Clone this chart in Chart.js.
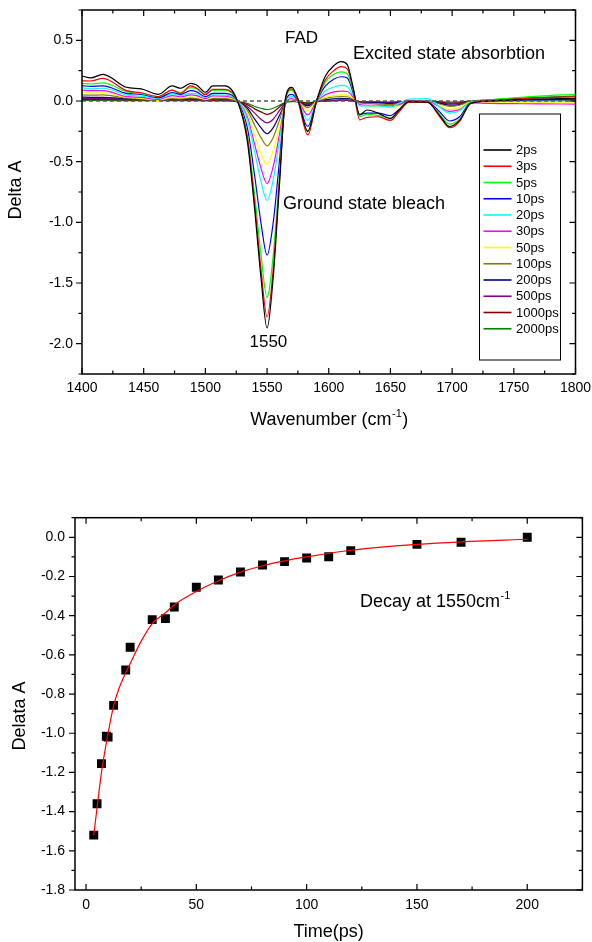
<!DOCTYPE html>
<html>
<head>
<meta charset="utf-8">
<script src="https://cdn.jsdelivr.net/npm/chart.js@4.4.0/dist/chart.umd.min.js"></script>
<style>
  html, body { margin: 0; padding: 0; background: #fff; }
  #wrap { position: relative; width: 592px; height: 942px; }
  canvas { position: absolute; left: 0; }
  #spectra { top: 0; }
  #decay { top: 470px; }
</style>
</head>
<body>
<div id="wrap">
  <canvas id="spectra" width="592" height="450"></canvas>
  <canvas id="decay" width="592" height="472"></canvas>
</div>
<script>
const FONT = '"Liberation Sans", Arial, sans-serif';

// --- transient spectra (Delta A vs wavenumber) ---
const wavenumbers = [1400, 1407, 1417, 1436, 1448, 1462, 1473, 1480, 1488, 1493, 1500, 1506, 1516,
  1526, 1534, 1540, 1545, 1550, 1555, 1560, 1565, 1570, 1575, 1583, 1590,
  1597, 1604, 1610, 1615, 1620, 1625, 1631, 1640, 1650, 1657, 1665,
  1680, 1690, 1698, 1706, 1715, 1730, 1750, 1770, 1800];

const delays = ['2ps', '3ps', '5ps', '10ps', '20ps', '30ps', '50ps', '100ps', '200ps', '500ps', '1000ps', '2000ps'];
const delayColors = ['#000000', '#ff0000', '#00ff00', '#0000ff', '#00ffff', '#ff00ff', '#ffff00',
  '#808000', '#000080', '#800080', '#800000', '#008000'];

const dA_2ps = [0.206, 0.19, 0.22, 0.113, 0.1, 0.055, 0.124, 0.105, 0.146, 0.132, 0.072, 0.124, 0.124,
  0.0, -0.33, -0.9, -1.45, -1.87, -1.45, -0.7, 0.03, 0.113, 0.02, -0.25, 0.0,
  0.2, 0.29, 0.324, 0.3, 0.1, -0.115, -0.074, -0.1, -0.145, -0.074, -0.005,
  -0.01, -0.12, -0.21, -0.16, -0.02, 0.0, 0.01, 0.015, 0.022];
const dA_3ps = [0.167, 0.165, 0.187, 0.085, 0.068, 0.036, 0.09, 0.063, 0.124, 0.105, 0.052, 0.096, 0.096,
  0.0, -0.3, -0.85, -1.38, -1.78, -1.38, -0.66, 0.02, 0.1, 0.0, -0.28, -0.01,
  0.17, 0.25, 0.283, 0.265, 0.09, -0.155, -0.135, -0.13, -0.16, -0.09, -0.01,
  -0.01, -0.13, -0.22, -0.17, -0.02, 0.005, 0.015, 0.025, 0.035];
const dA_5ps = [0.146, 0.14, 0.15, 0.077, 0.06, 0.036, 0.09, 0.07, 0.11, 0.1, 0.057, 0.09, 0.09,
  0.0, -0.28, -0.78, -1.26, -1.62, -1.27, -0.62, 0.01, 0.09, 0.0, -0.245, -0.01,
  0.15, 0.22, 0.24, 0.225, 0.08, -0.13, -0.11, -0.12, -0.14, -0.08, -0.01,
  -0.01, -0.11, -0.19, -0.15, -0.015, 0.01, 0.025, 0.04, 0.055];
const dA_10ps = [0.126, 0.12, 0.124, 0.063, 0.055, 0.027, 0.07, 0.055, 0.085, 0.075, 0.036, 0.063, 0.063,
  0.0, -0.22, -0.62, -1.0, -1.27, -1.0, -0.5, 0.0, 0.055, 0.0, -0.21, -0.01,
  0.12, 0.18, 0.2, 0.19, 0.06, -0.11, -0.1, -0.1, -0.12, -0.07, -0.01,
  -0.01, -0.09, -0.165, -0.13, -0.015, 0.0, 0.005, 0.01, 0.015];
const dA_20ps = [0.11, 0.1, 0.105, 0.05, 0.04, 0.022, 0.058, 0.045, 0.063, 0.058, 0.027, 0.05, 0.048,
  0.0, -0.15, -0.42, -0.66, -0.82, -0.65, -0.33, -0.02, 0.036, 0.0, -0.16, -0.01,
  0.08, 0.115, 0.128, 0.12, 0.04, -0.04, -0.04, -0.04, -0.05, -0.02, 0.015,
  0.02, -0.05, -0.1, -0.08, -0.01, 0.0, 0.005, 0.008, 0.01];
const dA_30ps = [0.09, 0.085, 0.085, 0.036, 0.03, 0.014, 0.044, 0.035, 0.05, 0.045, 0.02, 0.042, 0.04,
  0.0, -0.13, -0.36, -0.55, -0.68, -0.54, -0.28, -0.02, 0.02, 0.0, -0.115, -0.005,
  0.05, 0.075, 0.082, 0.078, 0.03, -0.03, -0.035, -0.035, -0.04, -0.03, 0.0,
  0.0, -0.05, -0.085, -0.07, -0.015, -0.02, -0.022, -0.024, -0.025];
const dA_50ps = [0.07, 0.066, 0.068, 0.03, 0.022, 0.008, 0.03, 0.025, 0.035, 0.03, 0.014, 0.03, 0.03,
  0.0, -0.1, -0.28, -0.43, -0.52, -0.41, -0.22, -0.02, 0.01, -0.005, -0.08, 0.0,
  0.03, 0.045, 0.05, 0.048, 0.02, -0.03, -0.04, -0.045, -0.055, -0.04, -0.005,
  0.0, -0.04, -0.07, -0.055, -0.01, -0.01, -0.01, -0.01, -0.01];
const dA_100ps = [0.05, 0.048, 0.05, 0.025, 0.018, 0.005, 0.022, 0.018, 0.025, 0.022, 0.01, 0.02, 0.02,
  -0.005, -0.08, -0.2, -0.3, -0.37, -0.3, -0.16, -0.02, 0.0, -0.005, -0.055, 0.0,
  0.02, 0.033, 0.036, 0.035, 0.015, -0.015, -0.02, -0.025, -0.03, -0.02, 0.0,
  0.0, -0.025, -0.045, -0.035, -0.005, 0.0, 0.0, 0.0, 0.0];
const dA_200ps = [0.032, 0.03, 0.03, 0.02, 0.015, 0.01, 0.02, 0.016, 0.02, 0.018, 0.01, 0.015, 0.015,
  -0.005, -0.06, -0.15, -0.22, -0.27, -0.22, -0.12, -0.02, 0.0, -0.005, -0.04, 0.0,
  0.01, 0.018, 0.02, 0.02, 0.01, -0.01, -0.015, -0.015, -0.02, -0.015, 0.0,
  0.0, -0.02, -0.035, -0.03, -0.005, 0.0, 0.005, 0.005, 0.008];
const dA_500ps = [0.022, 0.021, 0.02, 0.016, 0.014, 0.01, 0.013, 0.012, 0.013, 0.012, 0.008, 0.01, 0.01,
  -0.005, -0.045, -0.1, -0.15, -0.18, -0.15, -0.08, -0.015, 0.0, -0.005, -0.03, -0.005,
  0.0, 0.005, 0.008, 0.008, 0.003, -0.01, -0.012, -0.012, -0.015, -0.01, -0.005,
  -0.005, -0.015, -0.025, -0.02, -0.005, 0.0, 0.0, 0.003, 0.005];
const dA_1000ps = [0.014, 0.013, 0.013, 0.01, 0.009, 0.007, 0.008, 0.008, 0.008, 0.007, 0.005, 0.005, 0.005,
  -0.005, -0.03, -0.065, -0.09, -0.11, -0.09, -0.05, -0.01, 0.0, -0.005, -0.02, -0.005,
  0.0, 0.003, 0.005, 0.005, 0.0, -0.008, -0.01, -0.01, -0.012, -0.008, -0.005,
  -0.005, -0.01, -0.018, -0.015, -0.005, 0.0, 0.005, 0.008, 0.01];
const dA_2000ps = [0.004, 0.004, 0.004, 0.003, 0.003, 0.002, 0.002, 0.002, 0.002, 0.002, 0.001, 0.0, 0.0,
  -0.005, -0.02, -0.045, -0.06, -0.07, -0.06, -0.035, -0.01, -0.005, -0.005, -0.015, -0.005,
  0.0, 0.003, 0.005, 0.005, 0.0, -0.005, -0.008, -0.008, -0.01, -0.008, 0.0,
  0.0, -0.005, -0.01, -0.008, 0.0, 0.01, 0.02, 0.03, 0.04];

const spectra = [dA_2ps, dA_3ps, dA_5ps, dA_10ps, dA_20ps, dA_30ps, dA_50ps, dA_100ps,
  dA_200ps, dA_500ps, dA_1000ps, dA_2000ps];

const zeroLineX = [1400, 1800];
const zeroLineY = [0, 0];

// --- decay at 1550 cm-1 ---
const decayTimes = [3.5, 5, 7, 9.2, 10, 12.5, 18, 20, 30, 36, 40, 50, 60, 70, 80, 90, 100, 110, 120, 150, 170, 200];
const decayValues = [-1.52, -1.36, -1.155, -1.015, -1.02, -0.858, -0.677, -0.561, -0.42, -0.415, -0.356,
  -0.255, -0.218, -0.177, -0.141, -0.124, -0.106, -0.099, -0.068, -0.036, -0.025, 0.0];
const fitTimes = [3.5, 5, 7, 10, 12.5, 15, 18, 20, 25, 30, 36, 40, 50, 60, 70, 80, 90, 100, 120, 150, 170, 200];
const fitValues = [-1.52, -1.38, -1.2, -1.0, -0.86, -0.77, -0.69, -0.645, -0.53, -0.44, -0.385, -0.345,
  -0.277, -0.222, -0.178, -0.145, -0.12, -0.1, -0.066, -0.036, -0.023, -0.01];

const toXY = (xs, ys) => xs.map((x, i) => ({ x: x, y: ys[i] }));

// tick values on multiples of step inside the scale range
const stepTicks = step => scale => {
  const out = [];
  const n0 = Math.ceil(scale.min / step - 1e-9), n1 = Math.floor(scale.max / step + 1e-9);
  for (let n = n0; n <= n1; n++) out.push({ value: Math.round(n * step * 1e6) / 1e6 });
  scale.ticks = out;
};
// fixed axis box size, no extra label padding
const fixSize = (prop, size) => s => {
  s[prop] = size;
  s.paddingTop = 0; s.paddingBottom = 0; s.paddingLeft = 0; s.paddingRight = 0;
};

// frame with Origin-style ticks (left outward, others inward)
const framePlugin = {
  id: 'frame',
  afterDatasetsDraw(chart, args, o) {
    const { ctx, chartArea: a, scales } = chart;
    ctx.save();
    ctx.strokeStyle = '#000';
    ctx.lineWidth = 1.5;
    ctx.strokeRect(a.left, a.top, a.right - a.left, a.bottom - a.top);
    ctx.lineWidth = 1.2;
    const marks = (scale, minor, major) => {
      const out = [];
      const n0 = Math.ceil(scale.min / minor - 1e-9), n1 = Math.floor(scale.max / minor + 1e-9);
      const ratio = Math.round(major / minor);
      for (let n = n0; n <= n1; n++) {
        out.push({ p: scale.getPixelForValue(n * minor), big: n % ratio === 0 });
      }
      return out;
    };
    ctx.beginPath();
    marks(scales.x, o.xMinor, o.xMajor).forEach(m => {
      const len = m.big ? 6 : 3.5;
      ctx.moveTo(m.p, a.bottom); ctx.lineTo(m.p, a.bottom - len);
      ctx.moveTo(m.p, a.top); ctx.lineTo(m.p, a.top + len);
    });
    marks(scales.y, o.yMinor, o.yMajor).forEach(m => {
      const len = m.big ? 6 : 3.5;
      ctx.moveTo(a.left, m.p); ctx.lineTo(a.left - len, m.p);
      ctx.moveTo(a.right, m.p); ctx.lineTo(a.right - len, m.p);
    });
    ctx.stroke();
    ctx.restore();
  }
};

// free text: annotations and axis titles
const textPlugin = {
  id: 'notes',
  afterDraw(chart, args, o) {
    const ctx = chart.ctx;
    ctx.save();
    ctx.fillStyle = '#000';
    (o.items || []).forEach(it => {
      ctx.font = it.size + 'px ' + FONT;
      if (it.rotate) {
        ctx.save();
        ctx.translate(it.x, it.y);
        ctx.rotate(-Math.PI / 2);
        ctx.textAlign = 'center';
        ctx.textBaseline = 'middle';
        ctx.fillText(it.text, 0, 0);
        ctx.restore();
        return;
      }
      ctx.textAlign = 'left';
      ctx.textBaseline = 'alphabetic';
      const w1 = ctx.measureText(it.text).width;
      let w2 = 0, w3 = 0;
      if (it.sup) {
        ctx.font = Math.round(it.size * 0.6) + 'px ' + FONT;
        w2 = ctx.measureText(it.sup).width;
        ctx.font = it.size + 'px ' + FONT;
        w3 = ctx.measureText(it.tail || '').width;
      }
      let x = it.x;
      if (it.align === 'center') x = it.x - (w1 + w2 + w3) / 2;
      ctx.fillText(it.text, x, it.y);
      if (it.sup) {
        ctx.font = Math.round(it.size * 0.6) + 'px ' + FONT;
        ctx.fillText(it.sup, x + w1 + 0.5, it.y - it.size * 0.42);
        ctx.font = it.size + 'px ' + FONT;
        if (it.tail) ctx.fillText(it.tail, x + w1 + w2 + 1, it.y);
      }
    });
    ctx.restore();
  }
};

// legend box inside the plot
const boxLegend = {
  id: 'boxLegend',
  afterDraw(chart, args, o) {
    const ctx = chart.ctx;
    ctx.save();
    ctx.fillStyle = '#fff';
    ctx.fillRect(o.left, o.top, o.width, o.height);
    ctx.strokeStyle = '#000';
    ctx.lineWidth = 1;
    ctx.strokeRect(o.left, o.top, o.width, o.height);
    ctx.font = '13px ' + FONT;
    ctx.textBaseline = 'middle';
    ctx.textAlign = 'left';
    chart.data.datasets.filter(d => d.inLegend).forEach((d, i) => {
      const y = o.firstY + i * o.rowGap;
      ctx.strokeStyle = d.borderColor;
      ctx.lineWidth = 1.6;
      ctx.beginPath();
      ctx.moveTo(o.lineX0, y); ctx.lineTo(o.lineX1, y);
      ctx.stroke();
      ctx.fillStyle = '#000';
      ctx.fillText(d.label, o.textX, y + 0.5);
    });
    ctx.restore();
  }
};

const tickFont = { family: FONT, size: 14 };

const spectraSets = spectra.map((arr, i) => ({
  label: delays[i],
  data: toXY(wavenumbers, arr),
  borderColor: delayColors[i],
  borderWidth: 1.2,
  pointRadius: 0,
  cubicInterpolationMode: 'monotone',
  inLegend: true
}));
spectraSets.push({
  label: 'zero',
  data: toXY(zeroLineX, zeroLineY),
  borderColor: '#555',
  borderWidth: 1.4,
  borderDash: [4, 3],
  pointRadius: 0,
  order: -1
});

new Chart(document.getElementById('spectra'), {
  type: 'line',
  data: { datasets: spectraSets },
  options: {
    responsive: false,
    animation: false,
    devicePixelRatio: 1,
    layout: { padding: { left: 0, top: 10, right: 16.5, bottom: 0 } },
    scales: {
      x: {
        type: 'linear', min: 1400, max: 1800,
        grid: { display: false, drawTicks: false }, border: { display: false },
        ticks: { autoSkip: false, maxRotation: 0, padding: 6, color: '#000', font: tickFont,
          callback: v => String(v) },
        afterBuildTicks: stepTicks(50),
        afterFit: fixSize('height', 76)
      },
      y: {
        min: -2.25, max: 0.75,
        grid: { display: false, drawTicks: false }, border: { display: false },
        ticks: { autoSkip: false, padding: 9, color: '#000', font: tickFont,
          callback: v => v.toFixed(1) },
        afterBuildTicks: stepTicks(0.5),
        afterFit: fixSize('width', 82)
      }
    },
    plugins: {
      legend: { display: false },
      tooltip: { enabled: false },
      frame: { xMinor: 25, xMajor: 50, yMinor: 0.25, yMajor: 0.5 },
      boxLegend: { left: 479.5, top: 114, width: 81, height: 246, firstY: 150, rowGap: 16.25,
        lineX0: 483.5, lineX1: 511.5, textX: 516 },
      notes: { items: [
        { text: 'FAD', x: 285, y: 42.5, size: 17 },
        { text: 'Excited state absorbtion', x: 353, y: 59, size: 18 },
        { text: 'Ground state bleach', x: 283, y: 209, size: 18 },
        { text: '1550', x: 249.5, y: 346.5, size: 17 },
        { text: 'Wavenumber (cm', sup: '-1', tail: ')', x: 328.8, y: 425, size: 18, align: 'center' },
        { text: 'Delta A', x: 16.5, y: 190, size: 18, rotate: true }
      ] }
    }
  },
  plugins: [framePlugin, boxLegend, textPlugin]
});

new Chart(document.getElementById('decay'), {
  type: 'scatter',
  data: {
    datasets: [
      {
        type: 'line',
        label: 'fit',
        data: toXY(fitTimes, fitValues),
        borderColor: '#ff0000',
        borderWidth: 1.2,
        pointRadius: 0,
        cubicInterpolationMode: 'monotone'
      },
      {
        label: 'Decay at 1550cm-1',
        data: toXY(decayTimes, decayValues),
        pointStyle: 'rect',
        pointRadius: 6.3,
        backgroundColor: '#000',
        borderColor: '#000',
        borderWidth: 0
      }
    ]
  },
  options: {
    responsive: false,
    animation: false,
    devicePixelRatio: 1,
    layout: { padding: { left: 0, top: 47.7, right: 9.6, bottom: 0 } },
    scales: {
      x: {
        type: 'linear', min: -5, max: 225,
        grid: { display: false, drawTicks: false }, border: { display: false },
        ticks: { autoSkip: false, maxRotation: 0, padding: 6.5, color: '#000', font: tickFont,
          callback: v => String(v) },
        afterBuildTicks: stepTicks(50),
        afterFit: fixSize('height', 52)
      },
      y: {
        min: -1.8, max: 0.1,
        grid: { display: false, drawTicks: false }, border: { display: false },
        ticks: { autoSkip: false, padding: 10, color: '#000', font: tickFont,
          callback: v => v.toFixed(1) },
        afterBuildTicks: stepTicks(0.2),
        afterFit: fixSize('width', 75)
      }
    },
    plugins: {
      legend: { display: false },
      tooltip: { enabled: false },
      frame: { xMinor: 25, xMajor: 50, yMinor: 0.1, yMajor: 0.2 },
      notes: { items: [
        { text: 'Decay at 1550cm', sup: '-1', x: 360, y: 137, size: 18 },
        { text: 'Time(ps)', x: 328.7, y: 467, size: 18, align: 'center' },
        { text: 'Delata A', x: 20.5, y: 246, size: 18, rotate: true }
      ] }
    }
  },
  plugins: [framePlugin, textPlugin]
});
</script>
</body>
</html>
